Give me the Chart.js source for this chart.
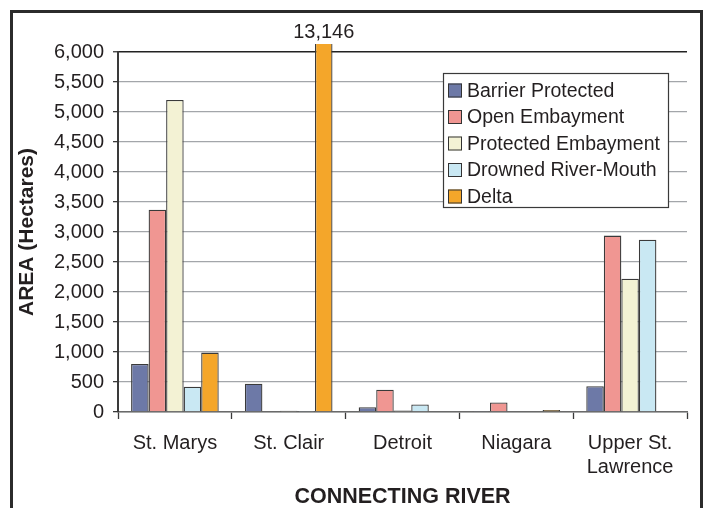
<!DOCTYPE html>
<html>
<head>
<meta charset="utf-8">
<script src="https://cdn.jsdelivr.net/npm/chart.js@4/dist/chart.umd.min.js"></script>
<style>
  html, body { margin: 0; padding: 0; background: #fff; overflow: hidden; }
  #frame { position: absolute; left: 10px; top: 10px; width: 687px; height: 520px;
           border: 3px solid #2b2b2b; border-bottom: none; }
  #wrap { position: absolute; left: 0; top: 0; width: 710px; height: 508px; }
</style>
</head>
<body>
<div id="frame"></div>
<div id="wrap"><canvas id="c" width="710" height="508"></canvas></div>
<script>
// Coastal wetland area by connecting river and geomorphic type (hectares)
const rivers = [['St. Marys'], ['St. Clair'], ['Detroit'], ['Niagara'], ['Upper St.', 'Lawrence']];
const seriesNames = ['Barrier Protected', 'Open Embayment', 'Protected Embayment', 'Drowned River-Mouth', 'Delta'];
const barrierProtected   = [800, 470, 80, 10, 430];
const openEmbayment      = [3370, 0, 370, 160, 2940];
const protectedEmbayment = [5200, 20, 25, 0, 2220];
const drownedRiverMouth  = [420, 5, 125, 0, 2870];
const delta              = [990, 13146, 0, 35, 0];
const yMin = 0, yMax = 6000, yStep = 500;

const seriesColors = ['#6d79a7', '#f09692', '#f3f2d4', '#c9e8f3', '#f4a62a'];
const seriesValues = [barrierProtected, openEmbayment, protectedEmbayment, drownedRiverMouth, delta];

const FONT = '"Liberation Sans", Arial, Helvetica, sans-serif';
Chart.defaults.font.family = FONT;
Chart.defaults.color = '#231f20';

// Boxed legend placed inside the plot area
const boxedLegend = {
  id: 'boxedLegend',
  afterDatasetsDraw(chart) {
    const ctx = chart.ctx;
    const x0 = 443, y0 = 73, w = 225, h = 134, row = 26.5;
    ctx.save();
    ctx.fillStyle = '#ffffff';
    ctx.fillRect(x0, y0, w, h);
    ctx.strokeStyle = '#3a3a3a';
    ctx.lineWidth = 1.2;
    ctx.strokeRect(x0 + 0.5, y0 + 0.5, w, h);
    ctx.font = '19.5px ' + FONT;
    ctx.textBaseline = 'middle';
    ctx.textAlign = 'left';
    chart.data.datasets.forEach((ds, i) => {
      const cy = y0 + 17.5 + i * row;
      ctx.fillStyle = ds.backgroundColor;
      ctx.fillRect(x0 + 5, cy - 7, 14, 14);
      ctx.strokeStyle = '#333';
      ctx.lineWidth = 1;
      ctx.strokeRect(x0 + 5.5, cy - 6.5, 13, 13);
      ctx.fillStyle = '#231f20';
      ctx.fillText(ds.label, x0 + 24, cy + 1);
    });
    ctx.restore();
  }
};

// Value label above the bar that runs off the top of the axis
const overflowLabel = {
  id: 'overflowLabel',
  afterDatasetsDraw(chart) {
    const ctx = chart.ctx;
    const yScale = chart.scales.y;
    chart.data.datasets.forEach((ds, di) => {
      const meta = chart.getDatasetMeta(di);
      ds.data.forEach((v, i) => {
        if (v > yScale.max) {
          const el = meta.data[i];
          ctx.save();
          ctx.font = '20px ' + FONT;
          ctx.fillStyle = '#231f20';
          ctx.textAlign = 'center';
          ctx.textBaseline = 'middle';
          ctx.fillText(v.toLocaleString('en-US'), el.x, chart.chartArea.top - 20);
          ctx.restore();
        }
      });
    });
  }
};

new Chart(document.getElementById('c'), {
  type: 'bar',
  data: {
    labels: rivers,
    datasets: seriesNames.map((name, i) => ({
      label: name,
      data: seriesValues[i],
      backgroundColor: seriesColors[i],
      borderColor: '#3a3a3a',
      borderWidth: 1.3,
      categoryPercentage: 0.77,
      barPercentage: 1.0,
      clip: { left: 0, top: 8, right: 0, bottom: 0 }
    }))
  },
  options: {
    responsive: false,
    animation: false,
    devicePixelRatio: 1,
    layout: { padding: { top: 52, right: 23, bottom: 0, left: 0 } },
    plugins: {
      legend: { display: false },
      tooltip: { enabled: false }
    },
    scales: {
      x: {
        offset: true,
        grid: {
          offset: true,
          drawOnChartArea: false,
          drawTicks: true,
          tickLength: 7,
          tickColor: '#3a3a3a',
          tickWidth: 1.3
        },
        border: { color: '#6a6a6a', width: 1.5 },
        ticks: { font: { size: 20 }, color: '#231f20', padding: 12, maxRotation: 0, autoSkip: false },
        title: {
          display: true,
          text: 'CONNECTING RIVER',
          font: { size: 21.5, weight: 'bold', lineHeight: 1 },
          color: '#231f20',
          padding: { top: 0, bottom: 0 }
        },
        afterFit(scale) { scale.height = 96; }
      },
      y: {
        min: yMin,
        max: yMax,
        ticks: {
          stepSize: yStep,
          font: { size: 20 },
          color: '#231f20',
          padding: 9,
          callback: v => v.toLocaleString('en-US')
        },
        grid: {
          color: c => (c.tick && c.tick.value === yMax) ? '#222' : '#a3a6aa',
          lineWidth: c => (c.tick && c.tick.value === yMax) ? 1.5 : 1.3,
          tickColor: '#3a3a3a',
          tickLength: 5,
          tickWidth: 1.3
        },
        border: { color: '#3a3a3a', width: 2 },
        title: {
          display: true,
          text: 'AREA (Hectares)',
          font: { size: 21, weight: 'bold', lineHeight: 1 },
          color: '#231f20',
          padding: { top: 16.5, bottom: 0 }
        },
        afterFit(scale) { scale.width = 118; }
      }
    }
  },
  plugins: [boxedLegend, overflowLabel]
});
</script>
</body>
</html>
